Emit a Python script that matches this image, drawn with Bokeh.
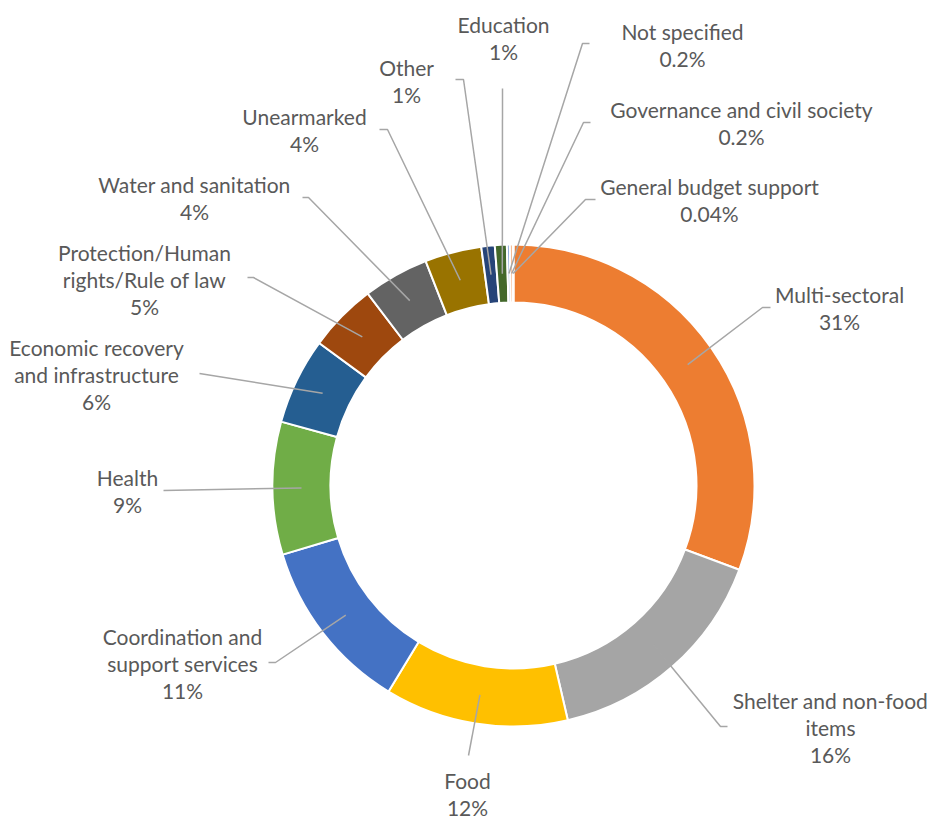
import math
from bokeh.plotting import figure
from bokeh.models import Range1d, ColumnDataSource
from bokeh.embed import file_html
from bokeh.resources import INLINE
from bokeh.core.properties import value

# ---------------- data ----------------
categories = [
    "Multi-sectoral", "Shelter and non-food items", "Food",
    "Coordination and support services", "Health",
    "Economic recovery and infrastructure",
    "Protection/Human rights/Rule of law", "Water and sanitation",
    "Unearmarked", "Other", "Education", "Not specified",
    "Governance and civil society", "General budget support",
]
shares = [30.7, 15.7, 12.3, 11.7, 8.9, 5.8, 4.6, 4.4, 3.8, 0.9, 0.8, 0.2, 0.2, 0.04]
pct_labels = ["31%", "16%", "12%", "11%", "9%", "6%", "5%", "4%", "4%",
              "1%", "1%", "0.2%", "0.2%", "0.04%"]
label_lines = [
    ["Multi-sectoral"], ["Shelter and non-food", "items"], ["Food"],
    ["Coordination and", "support services"], ["Health"],
    ["Economic recovery", "and infrastructure"],
    ["Protection/Human", "rights/Rule of law"], ["Water and sanitation"],
    ["Unearmarked"], ["Other"], ["Education"], ["Not specified"],
    ["Governance and civil society"], ["General budget support"],
]

# ---------------- styles / layout ----------------
colors = ["#ED7D31", "#A5A5A5", "#FFC000", "#4472C4", "#70AD47", "#255E91",
          "#9E480E", "#636363", "#997300", "#264478", "#43682B", "#8FAADC",
          "#F4B183", "#C9C9C9"]
CX, CY = 513, 485          # page-pixel centre of the ring
R_OUT, R_IN, R_ANCHOR = 241, 183, 212
LINE_H = 27
FONT = "Lato"
FONT_SIZE = "21px"
TEXT_COLOR = "#595959"
LEADER_COLOR = "#A6A6A6"

# label block centre x, first-line centre y (page pixels)
label_pos = [(839, 294), (830, 700), (467, 780), (182, 636), (127, 477),
             (96, 347), (144, 252), (194, 184), (304, 116), (406, 67),
             (503, 24), (682, 31), (741, 109), (709, 186)]
# leader knee (x, y) and horizontal end x (page pixels)
leader_knee = [(762, 307, 770), (720, 726, 727), (468, 755, 468),
               (275, 662, 268), (163, 490, 163), (199, 373, 199),
               (253, 277, 247), (308, 197, 302), (387, 129, 379),
               (463, 79, 455), (502, 88, 502), (582, 43, 589),
               (583, 122, 590), (585, 199, 595)]

W, H = 929, 825
p = figure(width=W, height=H, x_range=Range1d(0, W), y_range=Range1d(-H, 0),
           output_backend="svg", toolbar_location=None, min_border=0,
           x_axis_type=None, y_axis_type=None)
p.grid.visible = False
p.outline_line_color = None
p.background_fill_color = "white"
p.border_fill_color = "white"

total = sum(shares)
starts, ends, mids = [], [], []
cum = 0.0
for s in shares:
    a0 = math.pi / 2 - 2 * math.pi * cum / total
    a1 = math.pi / 2 - 2 * math.pi * (cum + s) / total
    starts.append(a0)
    ends.append(a1)
    mids.append((a0 + a1) / 2)
    cum += s

src = ColumnDataSource(dict(start=starts, end=ends, color=colors, cat=categories, share=shares))
p.annular_wedge(x=CX, y=-CY, inner_radius=R_IN, outer_radius=R_OUT,
                start_angle="start", end_angle="end", direction="clock",
                fill_color="color", line_color="white", line_width=2, source=src)

# leader lines
xs, ys = [], []
for m, (kx, ky, ex) in zip(mids, leader_knee):
    ax = CX + R_ANCHOR * math.cos(m)
    ay = -CY + R_ANCHOR * math.sin(m)
    xs.append([ax, kx, ex])
    ys.append([ay, -ky, -ky])
p.multi_line(xs=xs, ys=ys, line_color=LEADER_COLOR, line_width=1.5)

# labels
tx, ty, tt = [], [], []
for lines, pct, (lx, ly) in zip(label_lines, pct_labels, label_pos):
    for i, t in enumerate(lines + [pct]):
        tx.append(lx)
        ty.append(-(ly + i * LINE_H))
        tt.append(t)
p.text(x=tx, y=ty, text=tt, text_align="center", text_baseline="middle",
       text_font=value(FONT), text_font_size=FONT_SIZE, text_color=TEXT_COLOR)

open("out.html", "w").write(file_html(p, INLINE))
